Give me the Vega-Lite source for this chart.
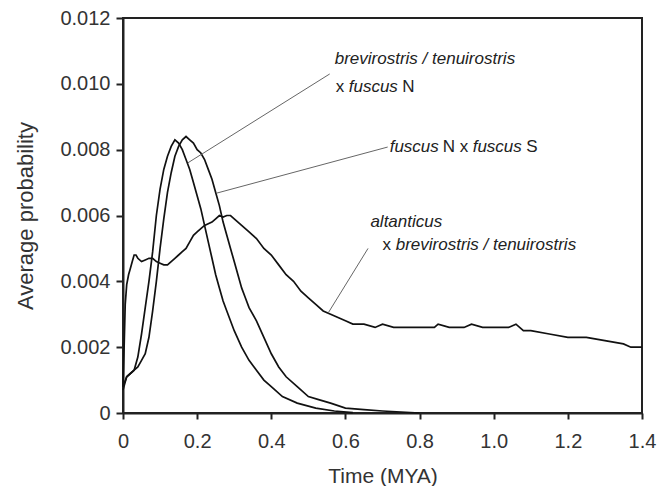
{
  "$schema": "https://vega.github.io/schema/vega-lite/v6.json",
  "autosize": {"type": "none"},
  "padding": {"left": 123, "top": 18, "right": 17, "bottom": 73},
  "width": 519,
  "height": 395,
  "background": "white",
  "config": {
    "view": {"stroke": "#222", "strokeWidth": 2},
    "axis": {
      "grid": false,
      "domainColor": "#222", "domainWidth": 2,
      "tickColor": "#222", "tickWidth": 2,
      "labelFont": "Liberation Sans", "labelFontSize": 20, "labelColor": "#333",
      "titleFont": "Liberation Sans", "titleFontWeight": "normal", "titleColor": "#333",
      "labelOverlap": false, "labelFlush": false
    }
  },
  "datasets": {
    "curves": [
      {"series": "brevirostris/tenuirostris x fuscus N", "t": 0, "p": 0.0007},
      {"series": "brevirostris/tenuirostris x fuscus N", "t": 0.005, "p": 0.0009},
      {"series": "brevirostris/tenuirostris x fuscus N", "t": 0.01, "p": 0.0011},
      {"series": "brevirostris/tenuirostris x fuscus N", "t": 0.02, "p": 0.0012},
      {"series": "brevirostris/tenuirostris x fuscus N", "t": 0.03, "p": 0.0013},
      {"series": "brevirostris/tenuirostris x fuscus N", "t": 0.04, "p": 0.0017},
      {"series": "brevirostris/tenuirostris x fuscus N", "t": 0.05, "p": 0.0024},
      {"series": "brevirostris/tenuirostris x fuscus N", "t": 0.06, "p": 0.0032},
      {"series": "brevirostris/tenuirostris x fuscus N", "t": 0.07, "p": 0.0040},
      {"series": "brevirostris/tenuirostris x fuscus N", "t": 0.08, "p": 0.0049},
      {"series": "brevirostris/tenuirostris x fuscus N", "t": 0.09, "p": 0.0060},
      {"series": "brevirostris/tenuirostris x fuscus N", "t": 0.10, "p": 0.0068},
      {"series": "brevirostris/tenuirostris x fuscus N", "t": 0.11, "p": 0.0074},
      {"series": "brevirostris/tenuirostris x fuscus N", "t": 0.12, "p": 0.0078},
      {"series": "brevirostris/tenuirostris x fuscus N", "t": 0.13, "p": 0.0081},
      {"series": "brevirostris/tenuirostris x fuscus N", "t": 0.14, "p": 0.0083},
      {"series": "brevirostris/tenuirostris x fuscus N", "t": 0.15, "p": 0.0082},
      {"series": "brevirostris/tenuirostris x fuscus N", "t": 0.16, "p": 0.0080},
      {"series": "brevirostris/tenuirostris x fuscus N", "t": 0.17, "p": 0.0077},
      {"series": "brevirostris/tenuirostris x fuscus N", "t": 0.18, "p": 0.0074},
      {"series": "brevirostris/tenuirostris x fuscus N", "t": 0.19, "p": 0.0070},
      {"series": "brevirostris/tenuirostris x fuscus N", "t": 0.20, "p": 0.0066},
      {"series": "brevirostris/tenuirostris x fuscus N", "t": 0.21, "p": 0.0062},
      {"series": "brevirostris/tenuirostris x fuscus N", "t": 0.22, "p": 0.0057},
      {"series": "brevirostris/tenuirostris x fuscus N", "t": 0.23, "p": 0.0052},
      {"series": "brevirostris/tenuirostris x fuscus N", "t": 0.24, "p": 0.0047},
      {"series": "brevirostris/tenuirostris x fuscus N", "t": 0.25, "p": 0.0042},
      {"series": "brevirostris/tenuirostris x fuscus N", "t": 0.26, "p": 0.0038},
      {"series": "brevirostris/tenuirostris x fuscus N", "t": 0.27, "p": 0.0034},
      {"series": "brevirostris/tenuirostris x fuscus N", "t": 0.28, "p": 0.0031},
      {"series": "brevirostris/tenuirostris x fuscus N", "t": 0.30, "p": 0.0025},
      {"series": "brevirostris/tenuirostris x fuscus N", "t": 0.32, "p": 0.0020},
      {"series": "brevirostris/tenuirostris x fuscus N", "t": 0.34, "p": 0.0016},
      {"series": "brevirostris/tenuirostris x fuscus N", "t": 0.36, "p": 0.0013},
      {"series": "brevirostris/tenuirostris x fuscus N", "t": 0.38, "p": 0.0010},
      {"series": "brevirostris/tenuirostris x fuscus N", "t": 0.40, "p": 0.0008},
      {"series": "brevirostris/tenuirostris x fuscus N", "t": 0.43, "p": 0.0005},
      {"series": "brevirostris/tenuirostris x fuscus N", "t": 0.47, "p": 0.0003},
      {"series": "brevirostris/tenuirostris x fuscus N", "t": 0.52, "p": 0.00015},
      {"series": "brevirostris/tenuirostris x fuscus N", "t": 0.57, "p": 0.00006},
      {"series": "brevirostris/tenuirostris x fuscus N", "t": 0.62, "p": 0.00001},

      {"series": "fuscus N x fuscus S", "t": 0, "p": 0.0008},
      {"series": "fuscus N x fuscus S", "t": 0.01, "p": 0.0011},
      {"series": "fuscus N x fuscus S", "t": 0.02, "p": 0.0012},
      {"series": "fuscus N x fuscus S", "t": 0.03, "p": 0.0013},
      {"series": "fuscus N x fuscus S", "t": 0.04, "p": 0.0014},
      {"series": "fuscus N x fuscus S", "t": 0.05, "p": 0.0016},
      {"series": "fuscus N x fuscus S", "t": 0.06, "p": 0.0018},
      {"series": "fuscus N x fuscus S", "t": 0.07, "p": 0.0023},
      {"series": "fuscus N x fuscus S", "t": 0.08, "p": 0.0031},
      {"series": "fuscus N x fuscus S", "t": 0.09, "p": 0.0040},
      {"series": "fuscus N x fuscus S", "t": 0.10, "p": 0.0050},
      {"series": "fuscus N x fuscus S", "t": 0.11, "p": 0.0059},
      {"series": "fuscus N x fuscus S", "t": 0.12, "p": 0.0067},
      {"series": "fuscus N x fuscus S", "t": 0.13, "p": 0.0073},
      {"series": "fuscus N x fuscus S", "t": 0.14, "p": 0.0078},
      {"series": "fuscus N x fuscus S", "t": 0.15, "p": 0.0081},
      {"series": "fuscus N x fuscus S", "t": 0.16, "p": 0.0083},
      {"series": "fuscus N x fuscus S", "t": 0.17, "p": 0.0084},
      {"series": "fuscus N x fuscus S", "t": 0.18, "p": 0.0083},
      {"series": "fuscus N x fuscus S", "t": 0.19, "p": 0.0082},
      {"series": "fuscus N x fuscus S", "t": 0.20, "p": 0.0080},
      {"series": "fuscus N x fuscus S", "t": 0.21, "p": 0.0079},
      {"series": "fuscus N x fuscus S", "t": 0.22, "p": 0.0077},
      {"series": "fuscus N x fuscus S", "t": 0.23, "p": 0.0074},
      {"series": "fuscus N x fuscus S", "t": 0.24, "p": 0.0071},
      {"series": "fuscus N x fuscus S", "t": 0.25, "p": 0.0067},
      {"series": "fuscus N x fuscus S", "t": 0.26, "p": 0.0063},
      {"series": "fuscus N x fuscus S", "t": 0.27, "p": 0.0058},
      {"series": "fuscus N x fuscus S", "t": 0.28, "p": 0.0054},
      {"series": "fuscus N x fuscus S", "t": 0.29, "p": 0.0050},
      {"series": "fuscus N x fuscus S", "t": 0.30, "p": 0.0046},
      {"series": "fuscus N x fuscus S", "t": 0.31, "p": 0.0042},
      {"series": "fuscus N x fuscus S", "t": 0.32, "p": 0.0038},
      {"series": "fuscus N x fuscus S", "t": 0.33, "p": 0.0035},
      {"series": "fuscus N x fuscus S", "t": 0.34, "p": 0.0032},
      {"series": "fuscus N x fuscus S", "t": 0.36, "p": 0.0028},
      {"series": "fuscus N x fuscus S", "t": 0.38, "p": 0.0023},
      {"series": "fuscus N x fuscus S", "t": 0.40, "p": 0.0018},
      {"series": "fuscus N x fuscus S", "t": 0.42, "p": 0.0014},
      {"series": "fuscus N x fuscus S", "t": 0.44, "p": 0.0011},
      {"series": "fuscus N x fuscus S", "t": 0.47, "p": 0.0008},
      {"series": "fuscus N x fuscus S", "t": 0.50, "p": 0.0005},
      {"series": "fuscus N x fuscus S", "t": 0.53, "p": 0.0004},
      {"series": "fuscus N x fuscus S", "t": 0.56, "p": 0.0003},
      {"series": "fuscus N x fuscus S", "t": 0.60, "p": 0.00015},
      {"series": "fuscus N x fuscus S", "t": 0.65, "p": 0.0001},
      {"series": "fuscus N x fuscus S", "t": 0.70, "p": 0.00006},
      {"series": "fuscus N x fuscus S", "t": 0.75, "p": 0.00003},
      {"series": "fuscus N x fuscus S", "t": 0.80, "p": 0.0},

      {"series": "altanticus x brevirostris/tenuirostris", "t": 0, "p": 0.0008},
      {"series": "altanticus x brevirostris/tenuirostris", "t": 0.003, "p": 0.0020},
      {"series": "altanticus x brevirostris/tenuirostris", "t": 0.006, "p": 0.0033},
      {"series": "altanticus x brevirostris/tenuirostris", "t": 0.01, "p": 0.0039},
      {"series": "altanticus x brevirostris/tenuirostris", "t": 0.015, "p": 0.0042},
      {"series": "altanticus x brevirostris/tenuirostris", "t": 0.02, "p": 0.0044},
      {"series": "altanticus x brevirostris/tenuirostris", "t": 0.025, "p": 0.0046},
      {"series": "altanticus x brevirostris/tenuirostris", "t": 0.03, "p": 0.0048},
      {"series": "altanticus x brevirostris/tenuirostris", "t": 0.035, "p": 0.0048},
      {"series": "altanticus x brevirostris/tenuirostris", "t": 0.04, "p": 0.0047},
      {"series": "altanticus x brevirostris/tenuirostris", "t": 0.05, "p": 0.0046},
      {"series": "altanticus x brevirostris/tenuirostris", "t": 0.06, "p": 0.00465},
      {"series": "altanticus x brevirostris/tenuirostris", "t": 0.07, "p": 0.0047},
      {"series": "altanticus x brevirostris/tenuirostris", "t": 0.08, "p": 0.0047},
      {"series": "altanticus x brevirostris/tenuirostris", "t": 0.09, "p": 0.0046},
      {"series": "altanticus x brevirostris/tenuirostris", "t": 0.10, "p": 0.00455},
      {"series": "altanticus x brevirostris/tenuirostris", "t": 0.11, "p": 0.0045},
      {"series": "altanticus x brevirostris/tenuirostris", "t": 0.12, "p": 0.0045},
      {"series": "altanticus x brevirostris/tenuirostris", "t": 0.13, "p": 0.0046},
      {"series": "altanticus x brevirostris/tenuirostris", "t": 0.14, "p": 0.0047},
      {"series": "altanticus x brevirostris/tenuirostris", "t": 0.15, "p": 0.0048},
      {"series": "altanticus x brevirostris/tenuirostris", "t": 0.16, "p": 0.0049},
      {"series": "altanticus x brevirostris/tenuirostris", "t": 0.17, "p": 0.0050},
      {"series": "altanticus x brevirostris/tenuirostris", "t": 0.18, "p": 0.0052},
      {"series": "altanticus x brevirostris/tenuirostris", "t": 0.19, "p": 0.0054},
      {"series": "altanticus x brevirostris/tenuirostris", "t": 0.20, "p": 0.0055},
      {"series": "altanticus x brevirostris/tenuirostris", "t": 0.21, "p": 0.0056},
      {"series": "altanticus x brevirostris/tenuirostris", "t": 0.22, "p": 0.0057},
      {"series": "altanticus x brevirostris/tenuirostris", "t": 0.23, "p": 0.00575},
      {"series": "altanticus x brevirostris/tenuirostris", "t": 0.24, "p": 0.0058},
      {"series": "altanticus x brevirostris/tenuirostris", "t": 0.25, "p": 0.0059},
      {"series": "altanticus x brevirostris/tenuirostris", "t": 0.26, "p": 0.0060},
      {"series": "altanticus x brevirostris/tenuirostris", "t": 0.27, "p": 0.00595},
      {"series": "altanticus x brevirostris/tenuirostris", "t": 0.28, "p": 0.0060},
      {"series": "altanticus x brevirostris/tenuirostris", "t": 0.29, "p": 0.0060},
      {"series": "altanticus x brevirostris/tenuirostris", "t": 0.30, "p": 0.0059},
      {"series": "altanticus x brevirostris/tenuirostris", "t": 0.32, "p": 0.0057},
      {"series": "altanticus x brevirostris/tenuirostris", "t": 0.34, "p": 0.0055},
      {"series": "altanticus x brevirostris/tenuirostris", "t": 0.36, "p": 0.0053},
      {"series": "altanticus x brevirostris/tenuirostris", "t": 0.38, "p": 0.0050},
      {"series": "altanticus x brevirostris/tenuirostris", "t": 0.40, "p": 0.0048},
      {"series": "altanticus x brevirostris/tenuirostris", "t": 0.42, "p": 0.0045},
      {"series": "altanticus x brevirostris/tenuirostris", "t": 0.44, "p": 0.0042},
      {"series": "altanticus x brevirostris/tenuirostris", "t": 0.46, "p": 0.0040},
      {"series": "altanticus x brevirostris/tenuirostris", "t": 0.48, "p": 0.0037},
      {"series": "altanticus x brevirostris/tenuirostris", "t": 0.50, "p": 0.0035},
      {"series": "altanticus x brevirostris/tenuirostris", "t": 0.52, "p": 0.0033},
      {"series": "altanticus x brevirostris/tenuirostris", "t": 0.54, "p": 0.0031},
      {"series": "altanticus x brevirostris/tenuirostris", "t": 0.56, "p": 0.0030},
      {"series": "altanticus x brevirostris/tenuirostris", "t": 0.58, "p": 0.0029},
      {"series": "altanticus x brevirostris/tenuirostris", "t": 0.60, "p": 0.0028},
      {"series": "altanticus x brevirostris/tenuirostris", "t": 0.62, "p": 0.0027},
      {"series": "altanticus x brevirostris/tenuirostris", "t": 0.65, "p": 0.0027},
      {"series": "altanticus x brevirostris/tenuirostris", "t": 0.68, "p": 0.0026},
      {"series": "altanticus x brevirostris/tenuirostris", "t": 0.70, "p": 0.0027},
      {"series": "altanticus x brevirostris/tenuirostris", "t": 0.73, "p": 0.0026},
      {"series": "altanticus x brevirostris/tenuirostris", "t": 0.76, "p": 0.0026},
      {"series": "altanticus x brevirostris/tenuirostris", "t": 0.80, "p": 0.0026},
      {"series": "altanticus x brevirostris/tenuirostris", "t": 0.84, "p": 0.0026},
      {"series": "altanticus x brevirostris/tenuirostris", "t": 0.85, "p": 0.0027},
      {"series": "altanticus x brevirostris/tenuirostris", "t": 0.88, "p": 0.0026},
      {"series": "altanticus x brevirostris/tenuirostris", "t": 0.92, "p": 0.0026},
      {"series": "altanticus x brevirostris/tenuirostris", "t": 0.94, "p": 0.0027},
      {"series": "altanticus x brevirostris/tenuirostris", "t": 0.97, "p": 0.0026},
      {"series": "altanticus x brevirostris/tenuirostris", "t": 1.00, "p": 0.0026},
      {"series": "altanticus x brevirostris/tenuirostris", "t": 1.04, "p": 0.0026},
      {"series": "altanticus x brevirostris/tenuirostris", "t": 1.06, "p": 0.0027},
      {"series": "altanticus x brevirostris/tenuirostris", "t": 1.08, "p": 0.0025},
      {"series": "altanticus x brevirostris/tenuirostris", "t": 1.10, "p": 0.0025},
      {"series": "altanticus x brevirostris/tenuirostris", "t": 1.15, "p": 0.0024},
      {"series": "altanticus x brevirostris/tenuirostris", "t": 1.20, "p": 0.0023},
      {"series": "altanticus x brevirostris/tenuirostris", "t": 1.25, "p": 0.0023},
      {"series": "altanticus x brevirostris/tenuirostris", "t": 1.30, "p": 0.0022},
      {"series": "altanticus x brevirostris/tenuirostris", "t": 1.35, "p": 0.0021},
      {"series": "altanticus x brevirostris/tenuirostris", "t": 1.37, "p": 0.0020},
      {"series": "altanticus x brevirostris/tenuirostris", "t": 1.40, "p": 0.0020}
    ],
    "leaders": [
      {"t": 0.175, "p": 0.0076, "t2": 0.5576, "p2": 0.0103},
      {"t": 0.2528, "p": 0.00668, "t2": 0.714, "p2": 0.00808},
      {"t": 0.553, "p": 0.00303, "t2": 0.661, "p2": 0.0050}
    ],
    "labels": [
      {"t": 0.5711, "p": 0.01075, "text": "brevirostris / tenuirostris", "kind": "taxon"},
      {"t": 0.5738, "p": 0.0099, "text": "x", "kind": "plain"},
      {"t": 0.6089, "p": 0.0099, "text": "fuscus", "kind": "taxon"},
      {"t": 0.7532, "p": 0.0099, "text": "N", "kind": "plain"},
      {"t": 0.7194, "p": 0.00808, "text": "fuscus", "kind": "taxon"},
      {"t": 0.8624, "p": 0.00808, "text": "N x", "kind": "plain"},
      {"t": 0.9432, "p": 0.00808, "text": "fuscus", "kind": "taxon"},
      {"t": 1.0877, "p": 0.00808, "text": "S", "kind": "plain"},
      {"t": 0.6674, "p": 0.0058, "text": "altanticus", "kind": "taxon"},
      {"t": 0.6998, "p": 0.0051, "text": "x", "kind": "plain"},
      {"t": 0.7356, "p": 0.0051, "text": "brevirostris / tenuirostris", "kind": "taxon"}
    ]
  },
  "layer": [
    {
      "data": {"name": "curves"},
      "mark": {"type": "line", "color": "#111", "strokeWidth": 1.7, "interpolate": "linear"},
      "encoding": {
        "x": {
          "field": "t", "type": "quantitative",
          "scale": {"domain": [0, 1.4], "nice": false, "zero": false},
          "axis": {
            "title": "Time (MYA)", "titleFontSize": 21, "titlePadding": 14,
            "values": [0, 0.2, 0.4, 0.6, 0.8, 1.0, 1.2, 1.4],
            "tickSize": 6, "labelPadding": 12,
            "labelExpr": "datum.value == 0 ? '0' : format(datum.value, '.1f')"
          }
        },
        "y": {
          "field": "p", "type": "quantitative",
          "scale": {"domain": [0, 0.012], "nice": false, "zero": false},
          "axis": {
            "title": "Average probability", "titleFontSize": 22, "titlePadding": 22,
            "values": [0, 0.001, 0.002, 0.003, 0.004, 0.005, 0.006, 0.007, 0.008, 0.009, 0.01, 0.011, 0.012],
            "tickSize": 7, "labelPadding": 6,
            "labelExpr": "datum.value == 0 ? '0' : (round(datum.value * 1000) % 2 == 0 ? format(datum.value, '.3f') : '')"
          }
        },
        "detail": {"field": "series", "type": "nominal"}
      }
    },
    {
      "data": {"name": "leaders"},
      "mark": {"type": "rule", "color": "#666", "strokeWidth": 1},
      "encoding": {
        "x": {"field": "t", "type": "quantitative"},
        "y": {"field": "p", "type": "quantitative"},
        "x2": {"field": "t2"},
        "y2": {"field": "p2"}
      }
    },
    {
      "data": {"name": "labels"},
      "transform": [{"filter": "datum.kind == 'taxon'"}],
      "mark": {"type": "text", "align": "left", "baseline": "middle", "font": "Liberation Sans", "fontSize": 17, "fontStyle": "italic", "color": "#222"},
      "encoding": {
        "x": {"field": "t", "type": "quantitative"},
        "y": {"field": "p", "type": "quantitative"},
        "text": {"field": "text"}
      }
    },
    {
      "data": {"name": "labels"},
      "transform": [{"filter": "datum.kind == 'plain'"}],
      "mark": {"type": "text", "align": "left", "baseline": "middle", "font": "Liberation Sans", "fontSize": 17, "color": "#222"},
      "encoding": {
        "x": {"field": "t", "type": "quantitative"},
        "y": {"field": "p", "type": "quantitative"},
        "text": {"field": "text"}
      }
    }
  ]
}
